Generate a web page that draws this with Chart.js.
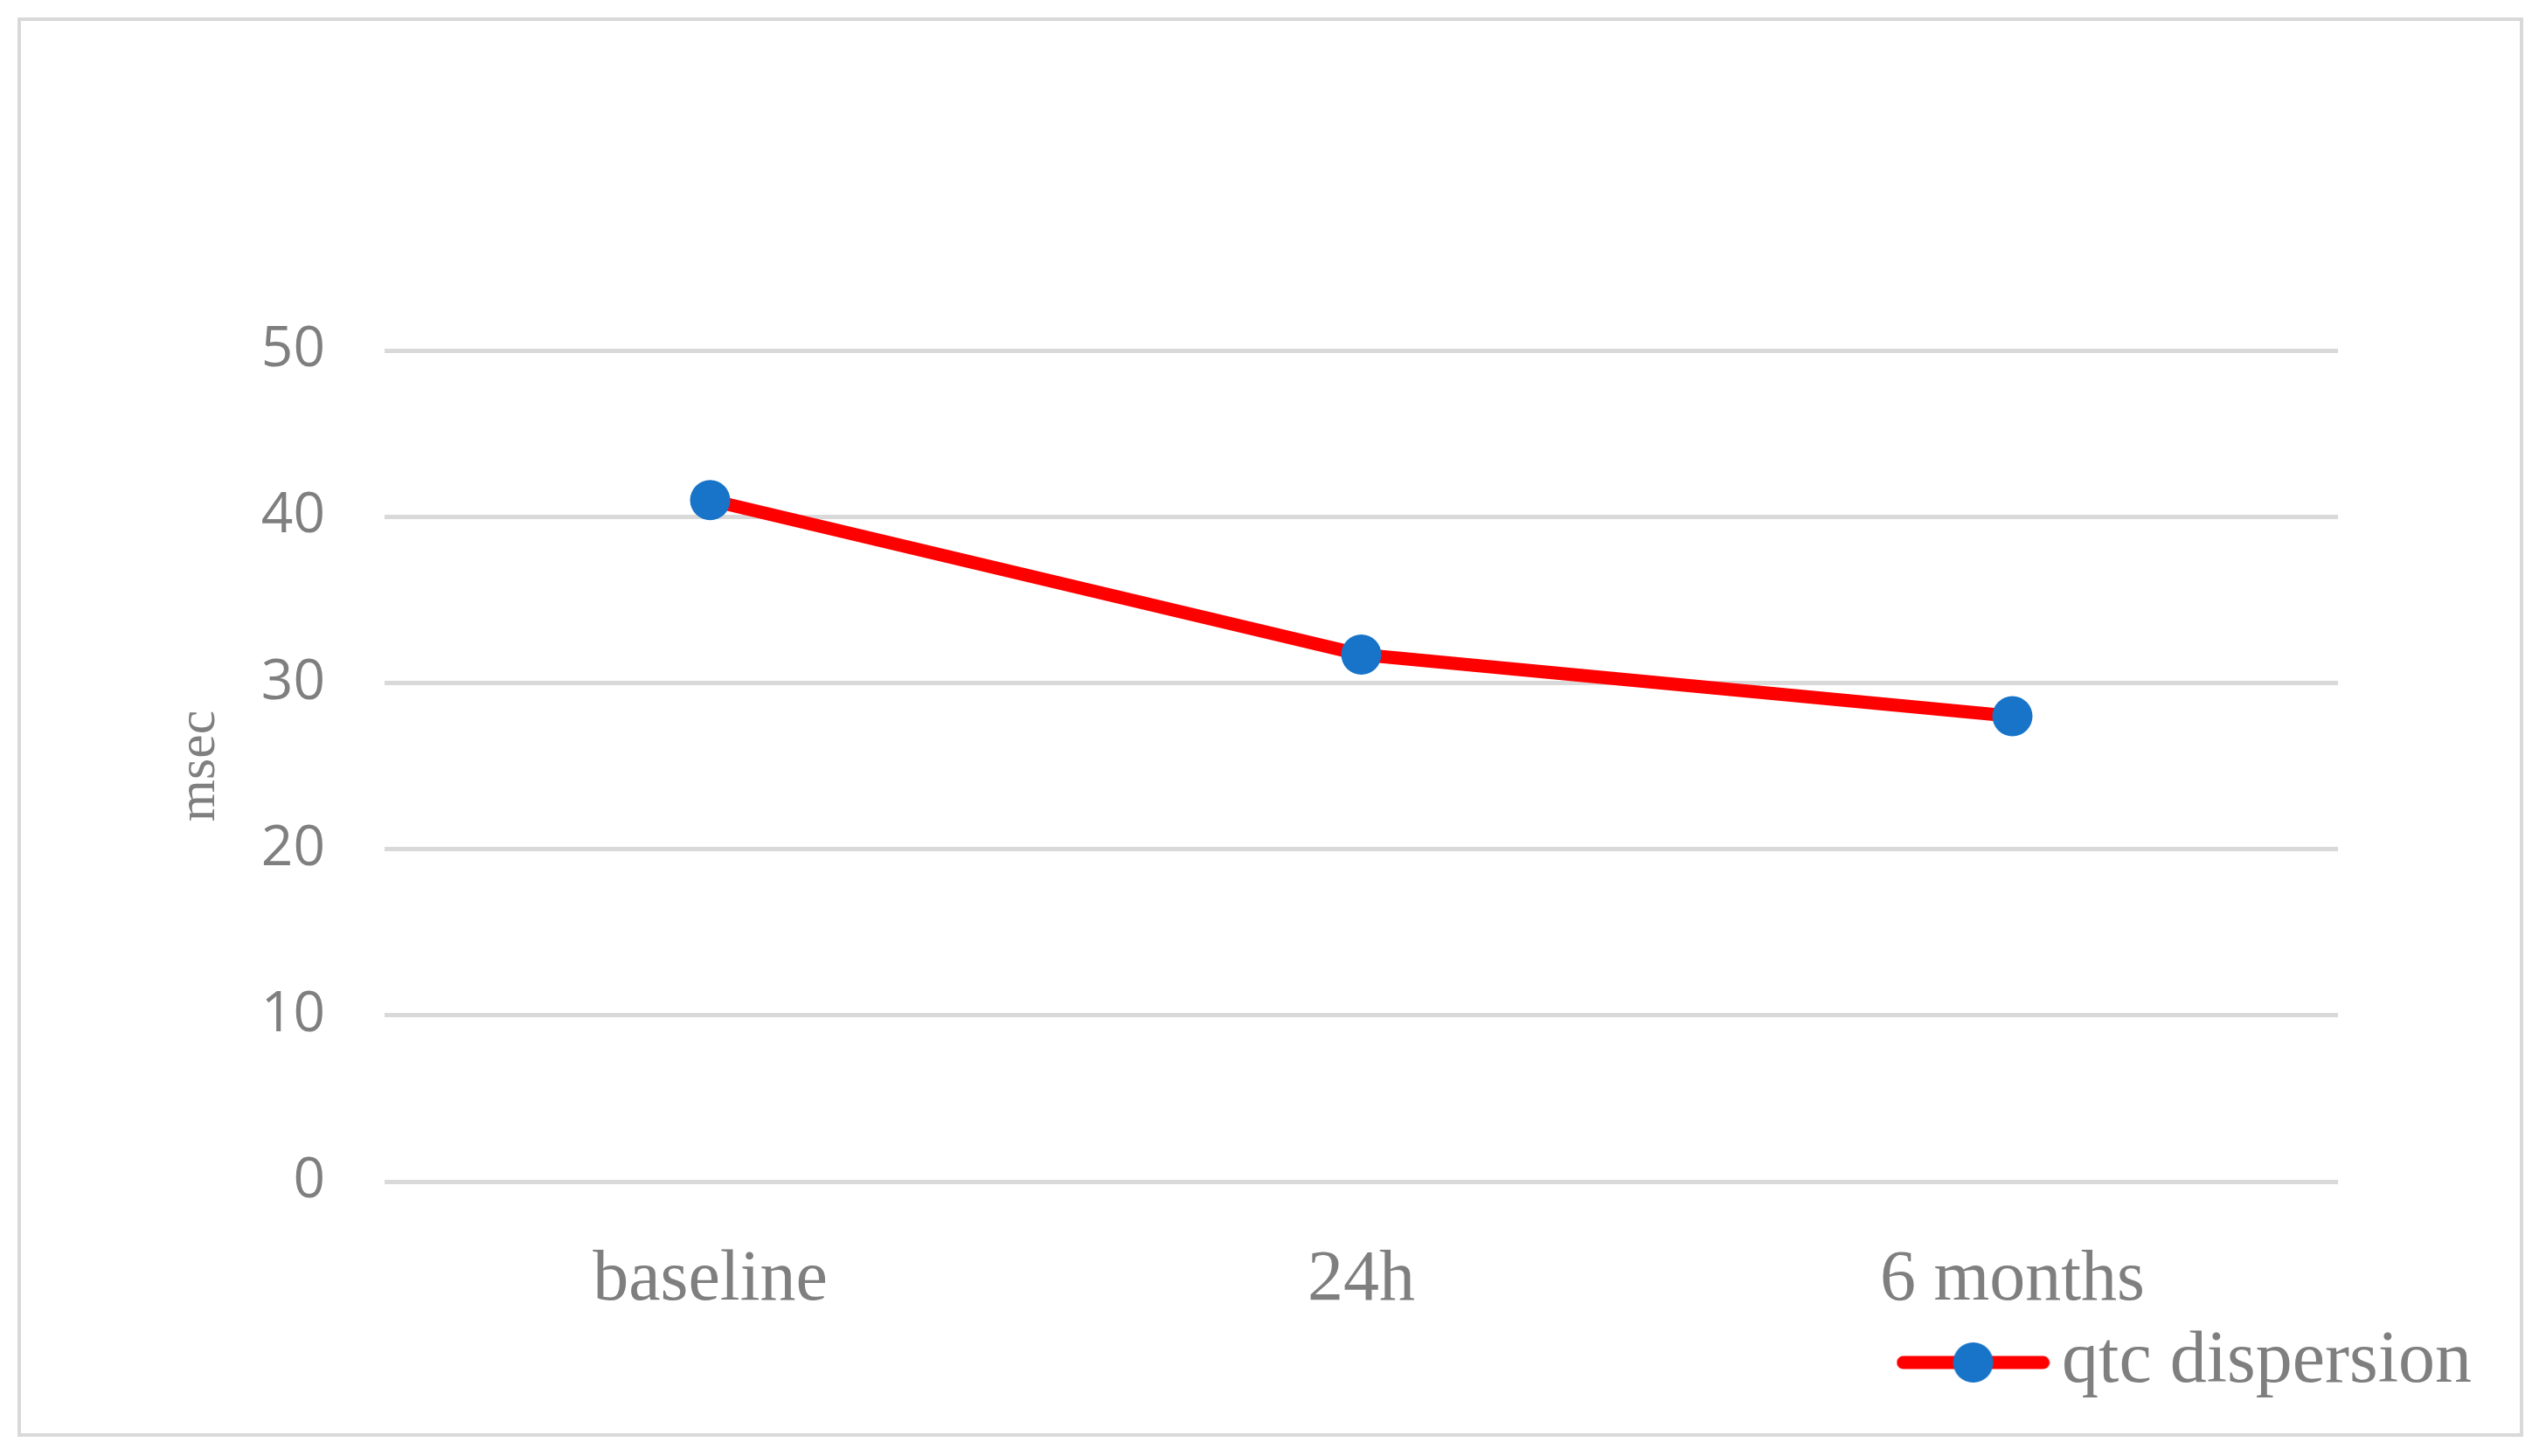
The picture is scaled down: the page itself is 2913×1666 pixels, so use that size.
<!DOCTYPE html>
<html>
<head>
<meta charset="utf-8">
<script src="https://cdn.jsdelivr.net/npm/chart.js@4/dist/chart.umd.min.js"></script>
<style>
    html, body { margin: 0; padding: 0; background: #ffffff; }
    #wrap { width: 2913px; height: 1666px; }
</style>
</head>
<body>
<div id="wrap"><canvas id="qtc-chart"></canvas></div>
<script>
// Data
const categories = ['baseline', '24h', '6 months'];
const qtcDispersion = [41, 31.7, 28];
const yMin = 0;
const yMax = 50;
const yStep = 10;

const seriesLabel = 'qtc dispersion';
const axisTitle = 'msec';

const lineRed = '#ff0000';
const markerBlue = '#1874c9';
const textGray = '#7f7f7f';
const gridGray = '#d9d9d9';

// Legend symbol: red line with the blue marker on top
function makeLegendSymbol() {
    const c = document.createElement('canvas');
    c.width = 176;
    c.height = 50;
    const g = c.getContext('2d');
    g.strokeStyle = lineRed;
    g.lineWidth = 15;
    g.lineCap = 'round';
    g.beginPath();
    g.moveTo(8, 25);
    g.lineTo(168, 25);
    g.stroke();
    g.fillStyle = markerBlue;
    g.beginPath();
    g.arc(88, 25, 23, 0, Math.PI * 2);
    g.fill();
    return c;
}

// Outer frame around the chart
const framePlugin = {
    id: 'frame',
    beforeDraw(chart) {
        const ctx = chart.ctx;
        ctx.save();
        ctx.fillStyle = '#ffffff';
        ctx.fillRect(0, 0, chart.width, chart.height);
        ctx.strokeStyle = gridGray;
        ctx.lineWidth = 4;
        ctx.strokeRect(22, 22, 2863, 1620);
        ctx.restore();
    }
};

const legendSymbol = makeLegendSymbol();

new Chart(document.getElementById('qtc-chart'), {
    type: 'line',
    data: {
        labels: categories,
        datasets: [{
            label: seriesLabel,
            data: qtcDispersion,
            borderColor: lineRed,
            borderWidth: 15,
            backgroundColor: markerBlue,
            pointBackgroundColor: markerBlue,
            pointBorderWidth: 0,
            pointRadius: 23,
            pointHoverRadius: 23,
            tension: 0,
            fill: false,
        }],
    },
    options: {
        responsive: true,
        maintainAspectRatio: false,
        animation: false,
        devicePixelRatio: 1,
        layout: {
            padding: { top: 401, right: 75, bottom: 55, left: 0 }
        },
        plugins: {
            title: { display: false },
            tooltip: { enabled: false },
            legend: {
                position: 'bottom',
                align: 'end',
                labels: {
                    usePointStyle: true,
                    pointStyleWidth: 119,
                    padding: 10,
                    color: textGray,
                    font: { family: '"Liberation Serif", serif', size: 84 },
                    generateLabels: () => [{
                        text: seriesLabel,
                        fontColor: textGray,
                        pointStyle: legendSymbol,
                        fillStyle: markerBlue,
                        strokeStyle: markerBlue,
                        lineWidth: 0,
                        hidden: false,
                        datasetIndex: 0,
                    }],
                },
            },
        },
        scales: {
            x: {
                offset: true,
                grid: { display: false, drawTicks: false },
                border: { display: false },
                ticks: {
                    color: textGray,
                    padding: 64,
                    font: { family: '"Liberation Serif", serif', size: 82 },
                },
                afterFit: (scale) => { scale.height = 155; },
            },
            y: {
                min: yMin,
                max: yMax,
                grid: { color: gridGray, lineWidth: 5, drawTicks: false },
                border: { display: false },
                ticks: {
                    stepSize: yStep,
                    color: textGray,
                    padding: 68,
                    font: { family: '"Open Sans", sans-serif', size: 64 },
                },
                title: {
                    display: true,
                    text: axisTitle,
                    color: textGray,
                    font: { family: '"Liberation Serif", serif', size: 62 },
                    padding: { top: 192, bottom: 0 },
                },
                afterFit: (scale) => { scale.width = 440; },
            },
            spacer: {
                position: 'right',
                display: true,
                grid: { display: false, drawTicks: false },
                border: { display: false },
                ticks: { display: false },
                afterFit: (scale) => { scale.width = 163; },
            },
        },
    },
    plugins: [framePlugin],
});
</script>
</body>
</html>
